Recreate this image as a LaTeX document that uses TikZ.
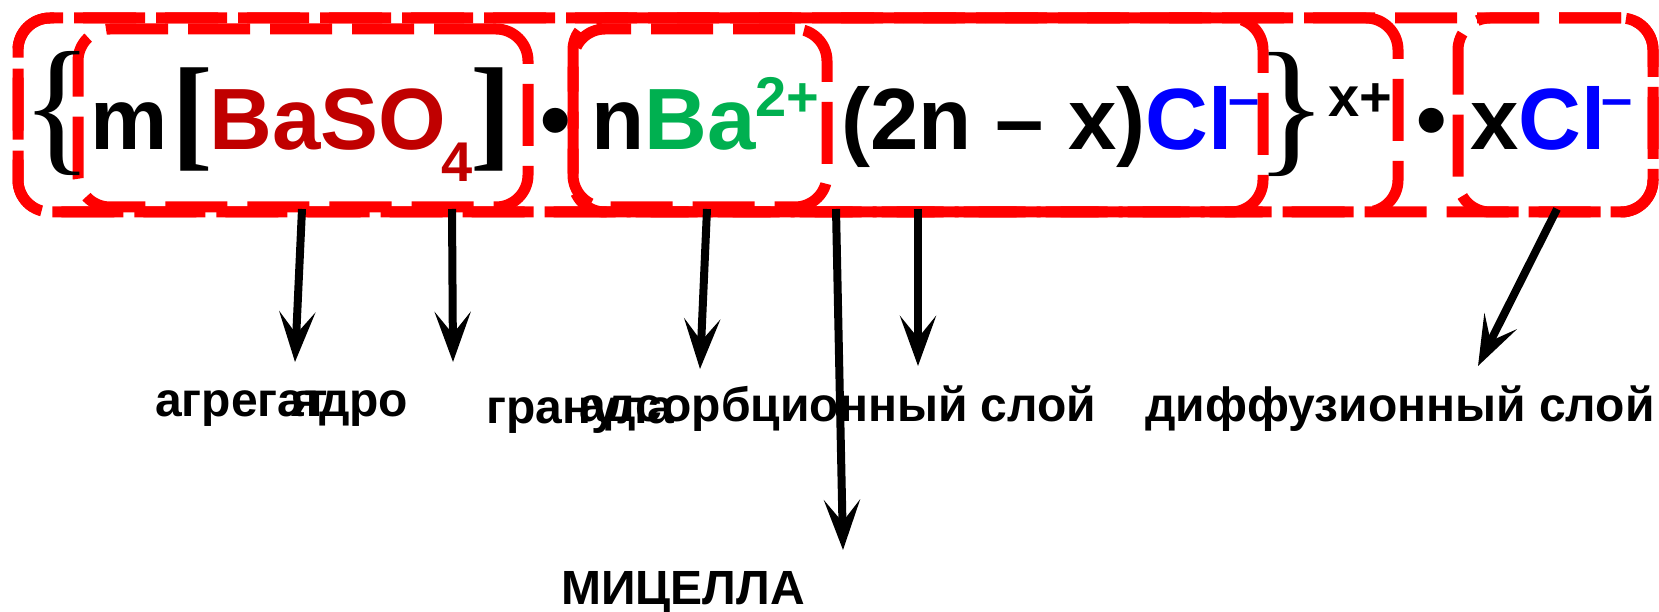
\documentclass[tikz,border=0pt]{standalone}
\usepackage{fontspec}
\setmainfont{Liberation Sans}
\newfontfamily\bracefont{Liberation Serif}
\usepackage{xcolor}
\usetikzlibrary{arrows.meta}

\definecolor{saltred}{RGB}{192,0,0}
\definecolor{iongreen}{RGB}{0,176,80}
\definecolor{clblue}{RGB}{0,0,255}
\newcommand{\formulasize}{\fontsize{87}{90}\selectfont\bfseries}
\newcommand{\chargesize}{\fontsize{56}{60}\selectfont\bfseries}
\newcommand{\labelsize}{\fontsize{48}{52}\selectfont\bfseries}

\begin{document}
\begin{tikzpicture}[
    x=1pt, y=-1pt,
    frame/.style={draw=red, line width=11pt, dash pattern=on 62pt off 20pt,
                  rounded corners=32pt, inner sep=0pt},
    chem/.style={inner sep=0pt, anchor=base west, font=\formulasize},
    brace/.style={inner sep=0pt, anchor=center, font=\bracefont\fontsize{150}{150}\selectfont},
    bracket/.style={inner sep=0pt, anchor=center, font=\bracefont\bfseries\fontsize{125}{125}\selectfont},
    lbl/.style={inner sep=0pt, anchor=base west, font=\labelsize},
    pointer/.style={line width=8pt, -{Stealth[length=50pt, width=36pt, inset=22pt]}}
  ]
    \useasboundingbox (0,0) rectangle (1659,612);

    % frames round the parts of the micelle
    \node[frame, minimum width=1635pt, minimum height=194pt] (micelle) at (835.5,115) {};
    \node[frame, minimum width=1380pt, minimum height=194pt] (granule) at (708,115) {};
    \node[frame, minimum width=690pt, minimum height=194pt] (adsorb) at (918,115) {};
    \node[frame, minimum width=195pt, minimum height=194pt] (diffuse) at (1555.5,115) {};
    \node[frame, minimum width=450pt, minimum height=178pt] (aggregate) at (303,118) {};
    \node[frame, minimum width=254pt, minimum height=178pt] (potion) at (700,118) {};

    % formula
    \node[brace] (braceL) at (57,113.5) {\{};
    \node[chem] (mcount) at (90,150) {m};
    \node[bracket] (brL) at (192,119) {[};
    \node[chem, text=saltred] (salt) at (209,150) {BaSO\kern-5pt\raisebox{-32pt}{\chargesize 4}};
    \node[bracket] (brR) at (491,119) {]};
    \node[chem] (dotA) at (540,150) {•};
    \node[chem] (ions) at (591,150) {n\textcolor{iongreen}{Ba\raisebox{33pt}{\chargesize 2+}}};
    \node[chem] (counter) at (841,150) {(2n – x)\textcolor{clblue}{Cl\raisebox{32.5pt}{\chargesize\kern-4pt –}}};
    \node[brace] (braceR) at (1291,114.5) {\}};
    \node[chem, font=\chargesize] (charge) at (1328,117) {x+};
    \node[chem] (dotB) at (1416,150) {•};
    \node[chem] (diffions) at (1470,150) {x\textcolor{clblue}{Cl\raisebox{32.5pt}{\chargesize\kern-4pt –}}};

    % labels
    \node[lbl] (lblAgg) at (155,416) {агрегат};
    \node[lbl] (lblCore) at (291,416) {ядро};
    \node[lbl] (lblGran) at (486,423) {гранула};
    \node[lbl] (lblAds) at (579,421) {адсорбционный слой};
    \node[lbl] (lblDiff) at (1145,421) {диффузионный слой};
    \node[lbl] (lblMic) at (561,604) {МИЦЕЛЛА};

    % arrow ends
    \coordinate (aggFrom) at (302,209);  \coordinate (aggTo) at (295,362);
    \coordinate (coreFrom) at (452,209); \coordinate (coreTo) at (453,362);
    \coordinate (granFrom) at (707,209); \coordinate (granTo) at (700,369);
    \coordinate (micFrom) at (836,209);  \coordinate (micTo) at (843,550);
    \coordinate (adsFrom) at (918,209);  \coordinate (adsTo) at (918,366);
    \coordinate (diffFrom) at (1557,209); \coordinate (diffTo) at (1478,366);

    \draw[pointer] (aggFrom) -- (aggTo);
    \draw[pointer] (coreFrom) -- (coreTo);
    \draw[pointer] (granFrom) -- (granTo);
    \draw[pointer] (micFrom) -- (micTo);
    \draw[pointer] (adsFrom) -- (adsTo);
    \draw[pointer] (diffFrom) -- (diffTo);
\end{tikzpicture}
\end{document}
